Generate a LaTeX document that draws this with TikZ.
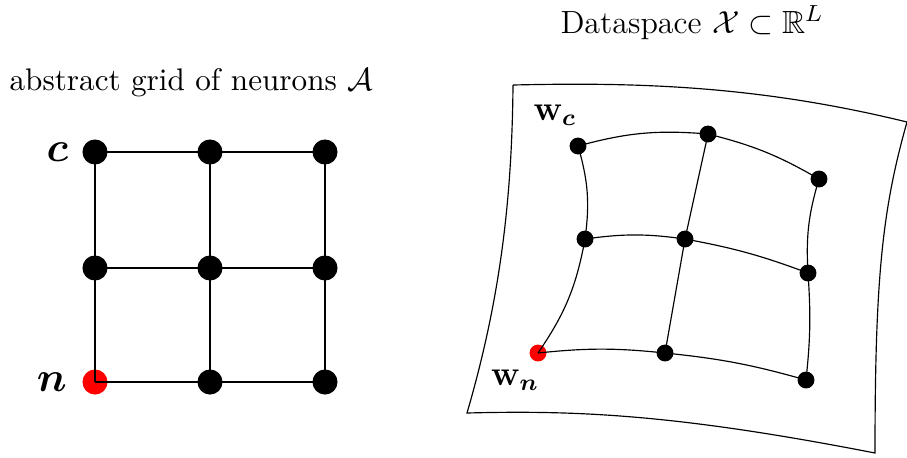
\documentclass[tikz,border=0pt]{standalone}
\usepackage{amsmath, amssymb}
\usepackage{tikz}
\usetikzlibrary{positioning}

\begin{document}
\begin{tikzpicture}[
    x=0.343pt, y=-0.343pt,
    every node/.style={font=\normalsize},
    neuron/.style={circle, fill=black, inner sep=0pt, minimum size=8.6pt},
    weight/.style={circle, fill=black, inner sep=0pt, minimum size=5.8pt},
    winner/.style={fill=red},
    gridlabel/.style={font=\Large, inner sep=0pt},
    link/.style={semithick},
    wlink/.style={thin}
]
\useasboundingbox (0,0) rectangle (907,457);

% abstract grid
\node[anchor=base west, inner sep=0pt, font=\fontsize{10.7}{13}\selectfont] (atitle) at (9,90) {abstract grid of neurons $\mathcal{A}$};
\node[neuron] (a11) at (95,152) {};
\node[neuron] (a12) at (210,152) {};
\node[neuron] (a13) at (325,152) {};
\node[neuron] (a21) at (95,268) {};
\node[neuron] (a22) at (210,268) {};
\node[neuron] (a23) at (325,268) {};
\node[neuron, winner] (a31) at (95,382) {};
\node[neuron] (a32) at (210,382) {};
\node[neuron] (a33) at (325,382) {};
\node[gridlabel, left=4.5pt of a11] {$\boldsymbol{c}$};
\node[gridlabel, left=5pt of a31] {$\boldsymbol{n}$};

\draw[link] (a11.center) -- (a12.center) -- (a13.center);
\draw[link] (a21.center) -- (a22.center) -- (a23.center);
\draw[link] (a31.center) -- (a32.center) -- (a33.center);
\draw[link] (a11.center) -- (a21.center) -- (a31.center);
\draw[link] (a12.center) -- (a22.center) -- (a32.center);
\draw[link] (a13.center) -- (a23.center) -- (a33.center);

% data space
\node[anchor=base, inner sep=0pt, font=\fontsize{11}{13}\selectfont] (dtitle) at (692,33) {Dataspace $\mathcal{X}\subset\mathbb{R}^L$};
\draw[wlink] (513,85) .. controls (640,82) and (760,86) .. (907,122)
    .. controls (882,210) and (875,280) .. (875,453)
    .. controls (680,415) and (580,410) .. (467,413)
    .. controls (500,300) and (512,200) .. (513,85);

\node[weight] (w11) at (578,146) {};
\node[weight] (w12) at (708,134) {};
\node[weight] (w13) at (819,179) {};
\node[weight] (w21) at (585,239) {};
\node[weight] (w22) at (685,239) {};
\node[weight] (w23) at (808,273) {};
\node[weight, winner] (w31) at (538,353) {};
\node[weight] (w32) at (665,353) {};
\node[weight] (w33) at (806,380) {};
\node[font=\large] at (555,115) {$\mathbf{w}_{\boldsymbol{c}}$};
\node[font=\large] at (515,380) {$\mathbf{w}_{\boldsymbol{n}}$};

\draw[wlink] (w11.center) to[bend left=10] (w12.center);
\draw[wlink] (w12.center) to[bend left=8] (w13.center);
\draw[wlink] (w21.center) to[bend left=8] (w22.center);
\draw[wlink] (w22.center) to[bend left=5] (w23.center);
\draw[wlink] (w31.center) to[bend left=6] (w32.center);
\draw[wlink] (w32.center) to[bend left=5] (w33.center);
\draw[wlink] (w11.center) to[bend left=12] (w21.center);
\draw[wlink] (w21.center) to[bend left=12] (w31.center);
\draw[wlink] (w12.center) -- (w22.center) -- (w32.center);
\draw[wlink] (w13.center) to[bend right=10] (w23.center);
\draw[wlink] (w23.center) to[bend left=5] (w33.center);
\end{tikzpicture}
\end{document}
